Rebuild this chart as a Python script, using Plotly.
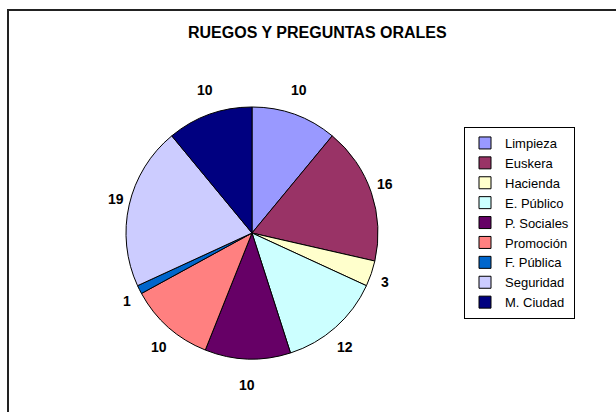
import math
import plotly.graph_objects as go

title = "RUEGOS Y PREGUNTAS ORALES"
categories = ["Limpieza", "Euskera", "Hacienda", "E. Público", "P. Sociales",
              "Promoción", "F. Pública", "Seguridad", "M. Ciudad"]
values = [10, 16, 3, 12, 10, 10, 1, 19, 10]
colors = ["#9999FF", "#993366", "#FFFFCC", "#CCFFFF", "#660066",
          "#FF8080", "#0066CC", "#CCCCFF", "#000080"]

W, H = 616, 412
cx, cy, r = 252, 233, 126      # pie centre / radius in pixels (from top-left)
label_rx, label_ry = 140, 152
FONT = "Arial, Liberation Sans, sans-serif"

fig = go.Figure()
fig.add_trace(go.Pie(
    labels=categories, values=values, sort=False, direction="clockwise",
    rotation=0, marker=dict(colors=colors, line=dict(color="black", width=1)),
    textinfo="none", hoverinfo="label+value",
    domain=dict(x=[(cx - r) / W, (cx + r) / W],
                y=[(H - cy - r) / H, (H - cy + r) / H]),
))

total = sum(values)
cum = 0
annotations = []
for v in values:
    mid = (cum + v / 2) / total * 2 * math.pi
    cum += v
    px = cx + label_rx * math.sin(mid)
    py = cy - label_ry * math.cos(mid)
    annotations.append(dict(x=px / W, y=1 - py / H, xref="paper", yref="paper",
                            xanchor="center", yanchor="middle",
                            text=f"<b>{v}</b>", showarrow=False,
                            font=dict(family=FONT, size=14, color="black")))
annotations.append(dict(x=317 / W, y=1 - 33 / H, xref="paper", yref="paper",
                        xanchor="center", yanchor="middle",
                        text=f"<b>{title}</b>", showarrow=False,
                        font=dict(family=FONT, size=16, color="black")))

fig.update_layout(
    width=W, height=H, margin=dict(l=0, r=0, t=0, b=0),
    paper_bgcolor="white", plot_bgcolor="white",
    annotations=annotations,
    showlegend=True,
    legend=dict(x=464 / W, y=1 - 127 / H, xanchor="left", yanchor="top",
                bordercolor="black", borderwidth=1, bgcolor="white",
                font=dict(family=FONT, size=13, color="black"),
                itemwidth=30, tracegroupgap=0),
    shapes=[dict(type="rect", xref="paper", yref="paper",
                 x0=8 / W, x1=1.05, y0=-0.05, y1=1 - 10 / H,
                 line=dict(color="#222222", width=2))],
)

fig.write_html("out.html", config={"displayModeBar": False},
               post_script="document.body.style.margin='0';document.body.style.overflow='hidden';")
